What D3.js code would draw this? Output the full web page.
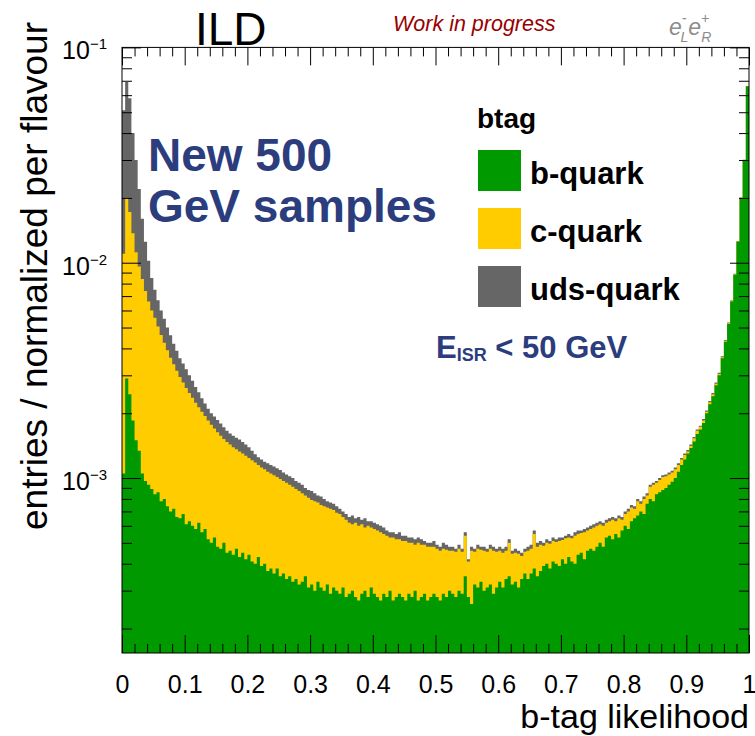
<!DOCTYPE html>
<html>
<head>
<meta charset="utf-8">
<script src="https://cdn.jsdelivr.net/npm/d3@7"></script>
<style>
  html, body { margin: 0; padding: 0; background: #fff; }
  svg { display: block; font-family: "Liberation Sans", Arial, Helvetica, sans-serif; }
</style>
</head>
<body>
<svg id="chart" width="755" height="736"></svg>
<script>
// b-tag likelihood, 200 bins on [0, 1]; per-bin fractions per flavour, listed in units of 1e-5
const UNIT = 1e-5;
const nBins = 200;
const flavours = ["b-quark", "c-quark", "uds-quark"];

const bQuark = [
  105, 290, 245, 185, 150, 134, 105, 97, 93, 89,
  84, 86, 78, 80, 74, 70, 72, 66, 65, 68,
  61, 63, 60, 58, 62, 56, 58, 52, 50, 53,
  48, 47, 50, 45, 46, 44, 47, 43, 45, 42,
  44, 41, 40, 43, 39, 40, 37, 38, 36, 38,
  35, 36, 34, 35, 33, 34, 32, 33, 35, 31,
  32, 30, 33, 31, 30, 32, 29, 31, 30, 29,
  31, 28, 29, 30, 28, 27, 29, 30, 28, 31,
  29, 28, 27, 29, 28, 30, 27, 28, 29, 28,
  27, 29, 28, 30, 27, 28, 29, 27, 28, 29,
  28, 27, 29, 28, 30, 29, 28, 30, 29, 35,
  28, 26, 32, 31, 33, 30, 31, 32, 29, 31,
  33, 31, 34, 35, 32, 33, 31, 34, 36, 34,
  36, 38, 35, 37, 39, 40, 38, 41, 40, 39,
  42, 40, 43, 41, 40, 44, 45, 42, 46, 47,
  46, 48, 50, 48, 53, 54, 52, 55, 53, 57,
  60, 58, 63, 65, 67, 70, 68, 76, 80, 78,
  84, 86, 88, 90, 93, 96, 100, 107, 115, 122,
  130, 138, 148, 160, 168, 180, 200, 220, 240, 270,
  300, 360, 430, 520, 660, 880, 1250, 2000, 3000, 6600
];

const cQuark = [
  995, 1710, 1475, 1185, 970, 826, 735, 643, 567, 511,
  471, 419, 384, 345, 318, 292, 266, 249, 230, 210,
  201, 185, 176, 166, 151, 147, 136, 133, 127, 117,
  115, 110, 102, 102, 97, 95, 89, 90, 85, 85,
  80, 80, 78, 72, 73, 70, 70, 67, 67, 63,
  64, 61, 61, 58, 58, 55, 55, 52, 48, 50,
  47, 48, 44, 44, 44, 41, 43, 40, 39, 39,
  35, 36, 33, 31, 34, 33, 32, 29, 32, 28,
  29, 29, 29, 26, 26, 23, 26, 24, 23, 23,
  24, 21, 22, 19, 23, 21, 20, 21, 20, 19,
  19, 19, 18, 18.5, 16, 17, 17.5, 17, 16.5, 19,
  13, 20, 13.5, 16, 13.5, 16, 14.5, 15, 17, 14.5,
  13, 14, 12, 15, 12.5, 12, 13.5, 9.5, 9.5, 12,
  11, 17, 13, 12, 9.5, 10, 11.5, 10, 10.5, 12,
  9.5, 12.5, 10, 11.5, 14, 11, 10.5, 14, 11, 11,
  13, 12, 11, 12, 9, 9, 12, 8, 12, 7,
  8, 12, 10, 7, 11, 6, 12, 7, 11, 15,
  11, 12, 13, 12, 11, 10, 10, 8, 7, 6,
  3, 3, 5, 6, 5, 5, 3, 5, 5, 4,
  4, 4, 4, 4, 3, 3, 3, 3, 3, 3
];

const udsQuark = [
  4000, 4900, 4080, 2630, 1880, 1240, 760, 510, 360, 250,
  195, 165, 138, 125, 108, 98, 82, 75, 65, 62,
  58, 52, 47, 41, 37, 32, 28, 25, 23, 23,
  23, 22, 20, 19, 18, 18, 18, 18, 17, 16,
  15, 13, 11, 10, 10, 9, 10, 10, 10, 10,
  10, 9, 9, 9, 9, 8, 8, 8, 7, 7,
  8, 7, 6, 7, 6, 5, 5, 5, 5, 4,
  4, 4, 4, 6, 3, 6, 3, 6, 3, 4,
  4, 4, 4, 4, 3, 3, 3, 3, 4, 3,
  3, 3, 3, 3, 3, 3, 2, 2, 2, 3,
  2, 2, 3, 2.5, 2, 2, 1.5, 2, 1.5, 2,
  1, 2, 1.5, 2, 1.5, 2, 1.5, 2, 2, 1.5,
  2, 2, 2, 2, 1.5, 2, 1.5, 1.5, 1.5, 2,
  2, 2, 2, 2, 1.5, 2, 1.5, 2, 1.5, 2,
  1.5, 1.5, 2, 1.5, 2, 2, 1.5, 2, 2, 2,
  2, 2, 2, 2, 2, 2, 2, 2, 2, 2,
  2, 2, 2, 2, 2, 2, 2, 2, 2, 2,
  2, 2, 2, 2, 2, 2, 2, 2, 2, 2,
  2, 2, 2, 2, 2, 3, 3, 3, 3, 4,
  4, 4, 4, 4, 5, 5, 5, 5, 5, 5
];

const xTickLabels = ["0", "0.1", "0.2", "0.3", "0.4", "0.5", "0.6", "0.7", "0.8", "0.9", "1"];
const yTickExponents = [-1, -2, -3];

const colors = { b: "#009900", c: "#ffcc00", uds: "#666666" };

// ---------------------------------------------------------------------------
const svg = d3.select("#chart");
const frame = { left: 122, right: 749, top: 47.4, bottom: 653 };

const x = d3.scaleLinear().domain([0, 1]).range([frame.left, frame.right]);
const y = d3.scaleLog().domain([1.54e-4, 0.1]).range([frame.bottom, frame.top]);

svg.append("rect").attr("width", 755).attr("height", 736).attr("fill", "#fff");

svg.append("clipPath").attr("id", "frameClip")
  .append("rect")
  .attr("x", frame.left).attr("y", frame.top)
  .attr("width", frame.right - frame.left).attr("height", frame.bottom - frame.top);

// stacked histogram
const rows = bQuark.map((b, i) => ({ bin: i, b: b * UNIT, c: cQuark[i] * UNIT, uds: udsQuark[i] * UNIT }));
const layers = d3.stack().keys(["b", "c", "uds"])(rows);

const edge = i => i / nBins;
const area = d3.area()
  .curve(d3.curveStepAfter)
  .x(d => x(d.x))
  .y0(frame.bottom + 2)
  .y1(d => y(d.top));

const histG = svg.append("g").attr("clip-path", "url(#frameClip)");
// cumulative fills from the axis upward, outermost layer first
layers.slice().reverse().forEach(layer => {
  const pts = layer.map((d, i) => ({ x: edge(i), top: d[1] }));
  pts.push({ x: 1, top: layer[layer.length - 1][1] });
  histG.append("path")
    .attr("d", area(pts))
    .attr("fill", colors[layer.key])
    .attr("stroke", "none");
});

// ---------------------------------------------------------------------------
// axes: ticks inside on all four sides
const xMajor = d3.range(11).map(i => i / 10);
const xMinor = x.ticks(50).filter(v => Math.abs(v * 10 - Math.round(v * 10)) > 1e-6);
const yMajor = yTickExponents.map(e => Math.pow(10, e));
const yMinor = y.ticks().filter(v => {
  const l = Math.log10(v);
  return Math.abs(l - Math.round(l)) > 1e-6;
});

function styleAxis(g) {
  g.select(".domain").remove();
  g.selectAll(".tick line").attr("stroke", "#000").attr("stroke-width", 1);
}

const majorLen = 18, minorLen = 9;

svg.append("g").attr("transform", `translate(0,${frame.bottom})`)
  .call(d3.axisBottom(x).tickValues(xMinor).tickSize(-minorLen).tickFormat(""))
  .call(styleAxis);
const xAxisB = svg.append("g").attr("transform", `translate(0,${frame.bottom})`)
  .call(d3.axisBottom(x).tickValues(xMajor).tickSize(-majorLen).tickPadding(22)
    .tickFormat((d, i) => xTickLabels[i]))
  .call(styleAxis);
xAxisB.selectAll(".tick text")
  .attr("fill", "#000")
  .attr("font-size", 25)
  .attr("font-family", "Liberation Sans, Arial, sans-serif");

svg.append("g").attr("transform", `translate(0,${frame.top})`)
  .call(d3.axisTop(x).tickValues(xMinor).tickSize(-minorLen).tickFormat(""))
  .call(styleAxis);
svg.append("g").attr("transform", `translate(0,${frame.top})`)
  .call(d3.axisTop(x).tickValues(xMajor).tickSize(-majorLen).tickFormat(""))
  .call(styleAxis);

svg.append("g").attr("transform", `translate(${frame.left},0)`)
  .call(d3.axisLeft(y).tickValues(yMinor).tickSize(-10).tickFormat(""))
  .call(styleAxis);
svg.append("g").attr("transform", `translate(${frame.left},0)`)
  .call(d3.axisLeft(y).tickValues(yMajor).tickSize(-19).tickFormat(""))
  .call(styleAxis);
svg.append("g").attr("transform", `translate(${frame.right},0)`)
  .call(d3.axisRight(y).tickValues(yMinor).tickSize(-10).tickFormat(""))
  .call(styleAxis);
svg.append("g").attr("transform", `translate(${frame.right},0)`)
  .call(d3.axisRight(y).tickValues(yMajor).tickSize(-19).tickFormat(""))
  .call(styleAxis);

// y tick labels as powers of ten
yTickExponents.forEach(e => {
  const v = Math.pow(10, e);
  const t = svg.append("text")
    .attr("x", 107)
    .attr("y", y(v) + 12)
    .attr("text-anchor", "end")
    .attr("fill", "#000")
    .attr("font-size", 25);
  t.append("tspan").text("10");
  t.append("tspan").attr("font-size", 15).attr("dy", -10).text("\u2212" + Math.abs(e));
});

// frame
svg.append("rect")
  .attr("x", frame.left).attr("y", frame.top)
  .attr("width", frame.right - frame.left).attr("height", frame.bottom - frame.top)
  .attr("fill", "none").attr("stroke", "#000").attr("stroke-width", 1);

// axis titles
svg.append("text")
  .attr("x", frame.right).attr("y", 728)
  .attr("text-anchor", "end")
  .attr("font-size", 34)
  .attr("fill", "#000")
  .text("b-tag likelihood");

svg.append("text")
  .attr("transform", `translate(47,${22}) rotate(-90)`)
  .attr("text-anchor", "end")
  .attr("font-size", 37)
  .attr("fill", "#000")
  .text("entries / normalized per flavour");

// header labels
svg.append("text")
  .attr("x", 195).attr("y", 45)
  .attr("font-size", 46)
  .attr("fill", "#000")
  .text("ILD");

svg.append("text")
  .attr("x", 393).attr("y", 31)
  .attr("font-size", 21.5)
  .attr("font-style", "italic")
  .attr("fill", "#990000")
  .text("Work in progress");

const beam = svg.append("text")
  .attr("x", 669).attr("y", 35)
  .attr("font-size", 23)
  .attr("font-style", "italic")
  .attr("fill", "#8c8c8c");
beam.append("tspan").text("e");
beam.append("tspan").attr("font-size", 14).attr("dy", -12).text("-");
beam.append("tspan").attr("font-size", 14).attr("dx", -6).attr("dy", 19).text("L");
beam.append("tspan").attr("dy", -7).text("e");
beam.append("tspan").attr("font-size", 14).attr("dy", -12).text("+");
beam.append("tspan").attr("font-size", 14).attr("dx", -8).attr("dy", 19).text("R");

// sample annotation
const ann = svg.append("g").attr("fill", "#2b3d7d").attr("font-weight", "bold");
ann.append("text").attr("x", 148).attr("y", 171).attr("font-size", 46).text("New 500");
ann.append("text").attr("x", 148).attr("y", 222).attr("font-size", 46).text("GeV samples");

const isr = ann.append("text").attr("x", 436).attr("y", 358).attr("font-size", 31);
isr.append("tspan").text("E");
isr.append("tspan").attr("font-size", 18).attr("dy", 3).text("ISR");
isr.append("tspan").attr("dy", -3).text(" < 50 GeV");

// legend
const legend = svg.append("g").attr("font-weight", "bold").attr("fill", "#000");
legend.append("text").attr("x", 477).attr("y", 128).attr("font-size", 28).text("btag");
const legendKeys = ["b", "c", "uds"];
legendKeys.forEach((k, i) => {
  const top = 150 + i * 58;
  legend.append("rect")
    .attr("x", 478).attr("y", top)
    .attr("width", 43).attr("height", 41)
    .attr("fill", colors[k]);
  legend.append("text")
    .attr("x", 530).attr("y", top + 34)
    .attr("font-size", 31)
    .text(flavours[i]);
});
</script>
</body>
</html>
